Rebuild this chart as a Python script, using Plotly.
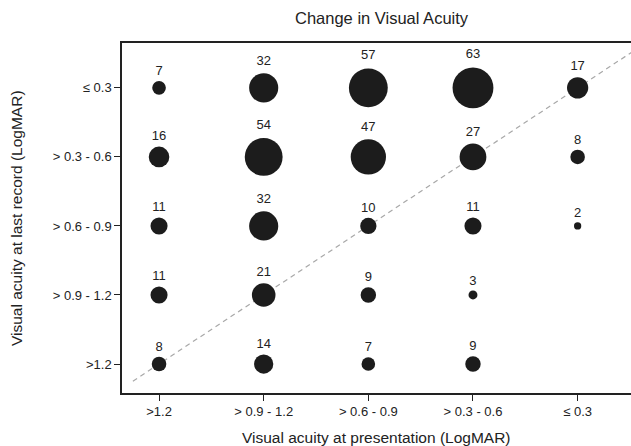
import numpy as np
import plotly.graph_objects as go

x_labels = [">1.2", "> 0.9 - 1.2", "> 0.6 - 0.9", "> 0.3 - 0.6", "\u2264 0.3"]
y_labels = [">1.2", "> 0.9 - 1.2", "> 0.6 - 0.9", "> 0.3 - 0.6", "\u2264 0.3"]

# counts per row of y_labels (bottom to top); columns follow x_labels
counts_r12 = [8, 14, 7, 9, None]
counts_r09 = [11, 21, 9, 3, None]
counts_r06 = [11, 32, 10, 11, 2]
counts_r03 = [16, 54, 47, 27, 8]
counts_le03 = [7, 32, 57, 63, 17]
rows = [counts_r12, counts_r09, counts_r06, counts_r03, counts_le03]

title_text = "Change in Visual Acuity"
x_title = "Visual acuity at presentation (LogMAR)"
y_title = "Visual acuity at last record (LogMAR)"

xs, ys, ns = [], [], []
for yi, row in enumerate(rows):
    for xi, n in enumerate(row):
        if n is not None:
            xs.append(xi)
            ys.append(yi)
            ns.append(n)

ns = np.array(ns)
diam = 5.15 * np.sqrt(ns)

font = "Liberation Sans, Arial, sans-serif"
ink = "#222222"
fig = go.Figure()
fig.add_trace(go.Scatter(
    x=[-0.25, 4.6], y=[-0.25, 4.6], mode="lines",
    line=dict(color="#a8a8a8", width=1.2, dash="5px,4px"),
    hoverinfo="skip", showlegend=False,
))
fig.add_trace(go.Scatter(
    x=xs, y=ys, mode="markers+text",
    marker=dict(size=diam, sizemode="diameter", color="#1c1c1c", opacity=1,
                line=dict(width=0)),
    text=[str(n) for n in ns], textposition="top center",
    textfont=dict(family=font, size=13, color=ink),
    showlegend=False,
))

fig.update_layout(
    width=631, height=446,
    margin=dict(l=122, r=0, t=43, b=53, autoexpand=False),
    paper_bgcolor="white", plot_bgcolor="white",
    font=dict(family=font, color=ink),
    annotations=[
        dict(text=title_text, xref="paper", yref="paper", x=0.51, y=1.0, yshift=25,
             xanchor="center", yanchor="middle", showarrow=False,
             font=dict(family=font, size=16.5, color=ink)),
        dict(text=x_title, xref="paper", yref="paper", x=0.5, y=0, yshift=-44,
             xanchor="center", yanchor="middle", showarrow=False,
             font=dict(family=font, size=15.5, color=ink)),
        dict(text=y_title, xref="paper", yref="paper", x=0, xshift=-106, y=0.5,
             xanchor="center", yanchor="middle", showarrow=False, textangle=-90,
             font=dict(family=font, size=15.5, color=ink)),
    ],
)
fig.update_xaxes(
    range=[-0.354, 4.51], tickvals=list(range(5)), ticktext=x_labels,
    showgrid=False, zeroline=False, showline=True, linecolor=ink, linewidth=1.5,
    mirror=True, ticks="outside", ticklen=6, tickcolor=ink, automargin=False,
    tickfont=dict(family=font, size=13, color=ink),
)
fig.update_yaxes(
    range=[-0.42, 4.65], tickvals=list(range(5)), ticktext=y_labels,
    showgrid=False, zeroline=False, showline=True, linecolor=ink, linewidth=1.5,
    ticks="outside", ticklen=6, tickcolor=ink, automargin=False,
    tickfont=dict(family=font, size=13, color=ink),
)
fig.write_html(
    "out.html",
    config={"displayModeBar": False},
    post_script="document.body.style.margin='0';document.body.style.overflow='hidden';",
)
